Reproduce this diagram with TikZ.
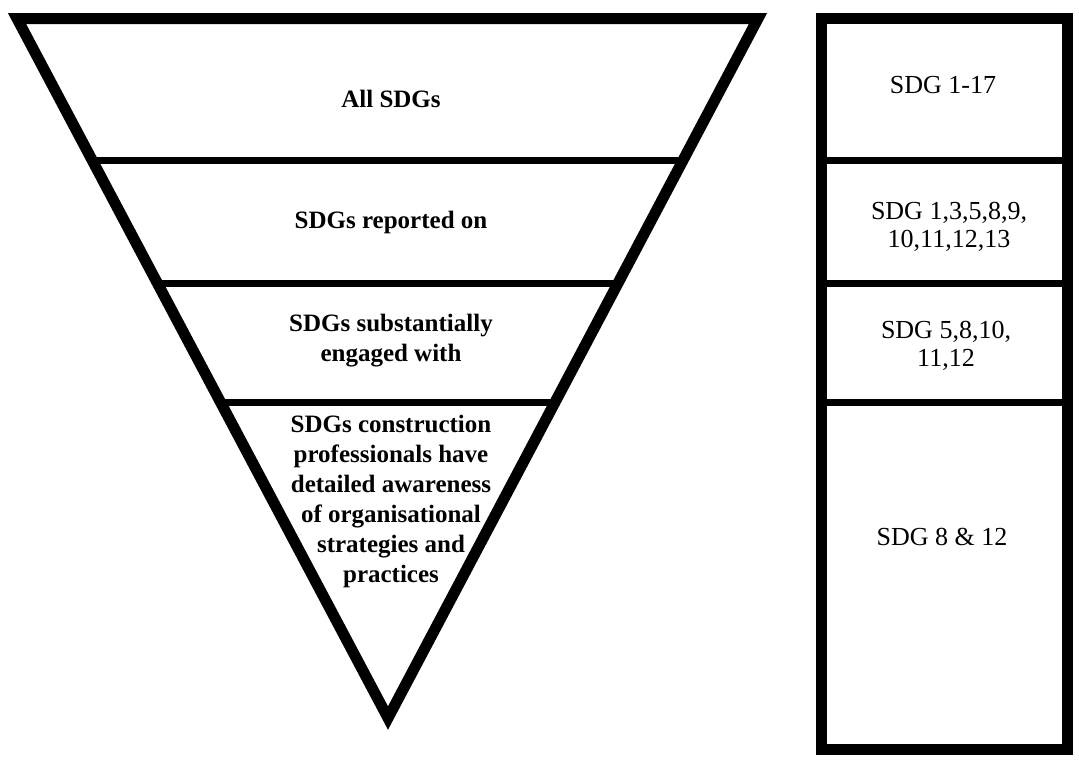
\documentclass[tikz,border=0pt]{standalone}
\usepackage{fontspec}
\setmainfont{Liberation Serif}

\tikzset{
	tritext/.style={font=\bfseries\fontsize{25}{30}\selectfont, align=center, inner sep=0pt},
	boxtext/.style={font=\fontsize{26}{28}\selectfont, align=center, inner sep=0pt},
	divider/.style={line width=7pt}
}

\begin{document}
\begin{tikzpicture}[x=1pt, y=-1pt, line width=11pt]
		\useasboundingbox (0,0) rectangle (1079,763);

		\coordinate (tl) at (17,18.5);
		\coordinate (tr) at (758,18.5);
		\coordinate (apex) at (388,718);

		\begin{scope}
			\clip (tl) -- (tr) -- (apex) -- cycle;
			\foreach \y in {160,283,402} {
				\draw[divider] (0,\y) -- (800,\y);
			}
		\end{scope}
		\draw (tl) -- (tr) -- (apex) -- cycle;

		\draw (821.5,18.5) rectangle (1067.5,749.5);
		\foreach \y in {160,283,402} {
			\draw[divider] (821.5,\y) -- (1067.5,\y);
		}

		\node[tritext] (alltxt) at (391,98.5) {All SDGs};
		\node[tritext] (reptxt) at (391,222.5) {SDGs reported on};
		\node[tritext] (engtxt) at (391,341) {SDGs substantially\\engaged with};
		\node[tritext] (awaretxt) at (391,501) {SDGs construction\\professionals have\\detailed awareness\\of organisational\\strategies and\\practices};

		\node[boxtext] (sdgall) at (943,85) {SDG 1-17};
		\node[boxtext] (sdgrep) at (949,227) {SDG 1,3,5,8,9,\\10,11,12,13};
		\node[boxtext] (sdgeng) at (946,346) {SDG 5,8,10,\\11,12};
		\node[boxtext] (sdgaware) at (942,537) {SDG 8 \& 12};
	\end{tikzpicture}
\end{document}
